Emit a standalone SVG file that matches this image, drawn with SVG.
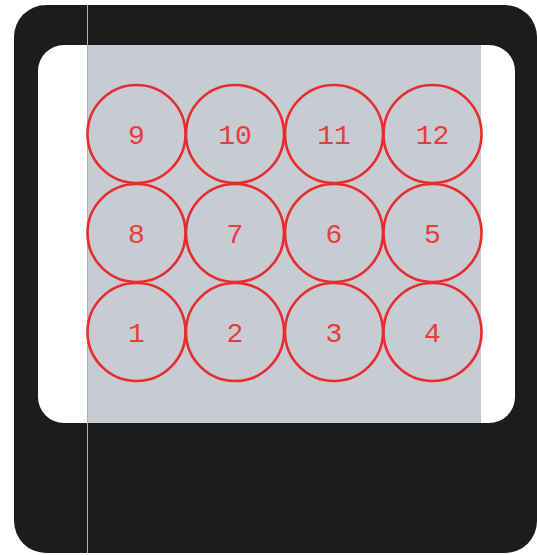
<svg xmlns="http://www.w3.org/2000/svg" width="537" height="555" viewBox="0 0 537 555">
<style>
.c{fill:none;stroke:#e52d2f;stroke-width:2.6}
.t{fill:#e63c3e;font-family:"Liberation Mono","Courier New",monospace;font-size:28px;text-anchor:middle}
</style>
<rect x="0" y="0" width="537" height="555" fill="#ffffff"/>
<rect id="frame" x="14" y="5" width="523" height="548" rx="32" ry="32" fill="#1e1b1c"/>
<rect id="window" x="38" y="45" width="477" height="378" rx="26" ry="26" fill="#ffffff"/>
<rect id="panel" x="87" y="45" width="394" height="378" fill="#c9cbd3"/>
<line x1="87.5" y1="5" x2="87.5" y2="553" stroke="#b0aeb0" stroke-width="1"/>
<g id="n9"><circle class="c" cx="136.5" cy="134" r="49"/><text class="t" x="136.5" y="144">9</text></g>
<g id="n10"><circle class="c" cx="235" cy="134" r="49"/><text class="t" x="235" y="144">10</text></g>
<g id="n11"><circle class="c" cx="334" cy="134" r="49"/><text class="t" x="334" y="144">11</text></g>
<g id="n12"><circle class="c" cx="432.5" cy="134" r="49"/><text class="t" x="432.5" y="144">12</text></g>
<g id="n8"><circle class="c" cx="136.5" cy="233" r="49"/><text class="t" x="136.5" y="243">8</text></g>
<g id="n7"><circle class="c" cx="235" cy="233" r="49"/><text class="t" x="235" y="243">7</text></g>
<g id="n6"><circle class="c" cx="334" cy="233" r="49"/><text class="t" x="334" y="243">6</text></g>
<g id="n5"><circle class="c" cx="432.5" cy="233" r="49"/><text class="t" x="432.5" y="243">5</text></g>
<g id="n1"><circle class="c" cx="136.5" cy="332" r="49"/><text class="t" x="136.5" y="342">1</text></g>
<g id="n2"><circle class="c" cx="235" cy="332" r="49"/><text class="t" x="235" y="342">2</text></g>
<g id="n3"><circle class="c" cx="334" cy="332" r="49"/><text class="t" x="334" y="342">3</text></g>
<g id="n4"><circle class="c" cx="432.5" cy="332" r="49"/><text class="t" x="432.5" y="342">4</text></g>
<g id="connectors"/>
</svg>
